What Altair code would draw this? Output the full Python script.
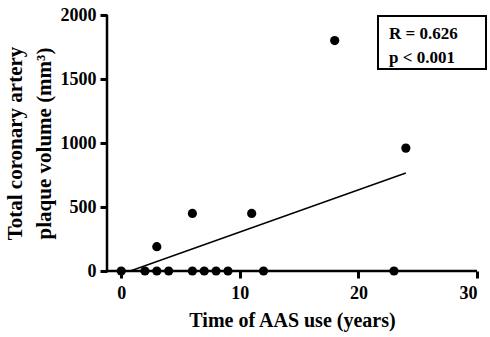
import altair as alt
import pandas as pd

years = [0, 2, 3, 3, 4, 6, 6, 7, 8, 9, 11, 12, 18, 23, 24]
volume = [0, 0, 0, 190, 0, 0, 450, 0, 0, 0, 450, 0, 1800, 0, 960]

fit_x = [0.76, 24]
fit_y = [0, 766]

stats_lines = ["R = 0.626", "p < 0.001"]

pts = pd.DataFrame({"x": years, "y": volume})
fit = pd.DataFrame({"x": fit_x, "y": fit_y})

FONT = "Liberation Serif"

xscale = alt.Scale(domain=[-1.2, 30], nice=False, zero=False)
yscale = alt.Scale(domain=[0, 2000], nice=False)

xaxis = alt.Axis(values=[0, 10, 20, 30], title="Time of AAS use (years)", grid=False,
                 format="d", domain=False,
                 tickColor="#000000", tickWidth=3, tickOpacity=1,
                 tickSize=7, labelFont=FONT, labelFontWeight="bold", labelFontSize=18,
                 labelColor="black", labelPadding=6, titleFont=FONT, titleFontWeight="bold",
                 titleFontSize=20, titleColor="black", titlePadding=8)
yaxis = alt.Axis(values=[0, 500, 1000, 1500, 2000], format="d", domain=False,
                 title=["Total coronary artery", "plaque volume (mm³)"], grid=False,
                 tickColor="#000000", tickWidth=3, tickOpacity=1,
                 tickSize=7, labelFont=FONT, labelFontWeight="bold", labelFontSize=18,
                 labelColor="black", labelPadding=4, titleFont=FONT, titleFontWeight="bold",
                 titleFontSize=21, titleColor="black", titlePadding=6, titleLineHeight=29)

points = alt.Chart(pts).mark_circle(size=85, color="black", opacity=1).encode(
    x=alt.X("x:Q", scale=xscale, axis=xaxis),
    y=alt.Y("y:Q", scale=yscale, axis=yaxis),
)

line = alt.Chart(fit).mark_line(color="black", strokeWidth=1.5).encode(
    x=alt.X("x:Q", scale=xscale, axis=xaxis),
    y=alt.Y("y:Q", scale=yscale, axis=yaxis),
)

x_domain_line = alt.Chart(pd.DataFrame({"a": [0]})).mark_rule(
    color="black", strokeWidth=2.5
).encode(x=alt.value(0), x2=alt.value(370), y=alt.value(256))

y_domain_line = alt.Chart(pd.DataFrame({"a": [0]})).mark_rule(
    color="black", strokeWidth=2.5
).encode(x=alt.value(0), y=alt.value(0), y2=alt.value(256))

box = alt.Chart(pd.DataFrame({"a": [0]})).mark_rect(
    fill="white", stroke="black", strokeWidth=2
).encode(x=alt.value(271), x2=alt.value(379), y=alt.value(1), y2=alt.value(54))

texts = []
for i, s in enumerate(stats_lines):
    texts.append(
        alt.Chart(pd.DataFrame({"t": [s]})).mark_text(
            font=FONT, fontWeight="bold", fontSize=17, color="black",
            align="left", baseline="alphabetic"
        ).encode(x=alt.value(282), y=alt.value(24 + 24 * i), text="t:N")
    )

chart = alt.layer(x_domain_line, y_domain_line, points, line, box, *texts).properties(
    width=370, height=256,
    autosize=alt.AutoSizeParams(type="none"),
    padding={"left": 107, "top": 15, "right": 13, "bottom": 66},
    background="white",
).configure_view(stroke=None)

chart.save("out.html", embed_options={"renderer": "svg", "actions": False})
